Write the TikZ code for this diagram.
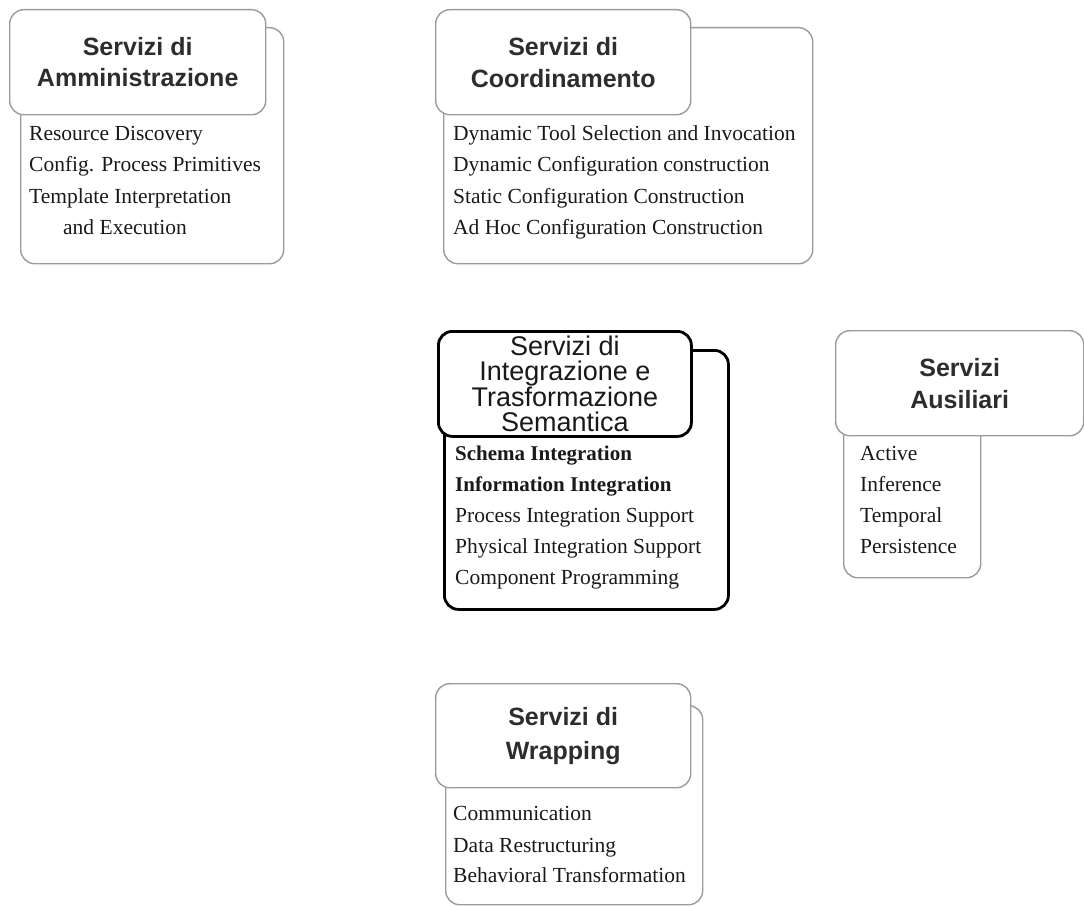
\documentclass[tikz,border=0pt]{standalone}
\usepackage{fontspec}
\setmainfont{Liberation Serif}
\newfontfamily\hdrfamily{Liberation Sans}

\definecolor{boxgray}{RGB}{155,155,155}
\definecolor{hdrtext}{RGB}{45,45,45}
\definecolor{itemtext}{RGB}{25,25,25}

\tikzset{
  backbox/.style={draw=boxgray, line width=1.4pt, rounded corners=14pt,
    anchor=north west, inner sep=0pt},
  hdrbox/.style={draw=boxgray, line width=1.4pt, rounded corners=14pt,
    fill=white, anchor=north west, inner sep=0pt, align=center, text=hdrtext,
    font=\hdrfamily\bfseries\fontsize{25}{31}\selectfont},
  heavy/.style={draw=black, line width=2.8pt},
  item/.style={anchor=base west, inner sep=0pt, text=itemtext,
    font=\fontsize{21.5}{26}\selectfont},
}

\begin{document}
\begin{tikzpicture}[x=1pt,y=-1pt]
\useasboundingbox (0,0) rectangle (1084,907);

% Servizi di Amministrazione
\node[backbox, minimum width=263pt, minimum height=236pt] (admB) at (20,27) {};
\node[hdrbox, minimum width=256pt, minimum height=105pt] (admH) at (9,9)
  {Servizi di\\Amministrazione};
\node[item] (adm1) at (29,140.5) {Resource Discovery};
\node[item] (adm2) at (29,171.5) {Config. Process Primitives};
\node[item] (adm3) at (29,203) {Template Interpretation};
\node[item] (adm4) at (63,234) {and Execution};

% Servizi di Coordinamento
\node[backbox, minimum width=369pt, minimum height=236pt] (cooB) at (443,27) {};
\node[hdrbox, minimum width=255pt, minimum height=105pt,
  font=\hdrfamily\bfseries\fontsize{25}{32}\selectfont] (cooH) at (435,9)
  {Servizi di\\Coordinamento};
\node[item] (coo1) at (453,140.5) {Dynamic Tool Selection and Invocation};
\node[item] (coo2) at (453,171.5) {Dynamic Configuration construction};
\node[item] (coo3) at (453,203) {Static Configuration Construction};
\node[item] (coo4) at (453,234) {Ad Hoc Configuration Construction};

% Servizi di Integrazione e Trasformazione Semantica
\node[backbox, heavy, minimum width=284pt, minimum height=259pt] (intB) at (443,349) {};
\node[hdrbox, heavy, minimum width=253pt, minimum height=105pt, text=black!90,
  font=\hdrfamily\fontsize{27}{24.5}\selectfont] (intH) at (437,330)
  {Servizi di\\Integrazione e\\Trasformazione\\Semantica};
\node[item, font=\bfseries\fontsize{21}{26}\selectfont] (int1) at (455,460) {Schema Integration};
\node[item, font=\bfseries\fontsize{21}{26}\selectfont] (int2) at (455,491) {Information Integration};
\node[item] (int3) at (455,522) {Process Integration Support};
\node[item] (int4) at (455,553) {Physical Integration Support};
\node[item] (int5) at (455,584) {Component Programming};

% Servizi Ausiliari
\node[backbox, minimum width=137pt, minimum height=217pt] (ausB) at (843,360) {};
\node[hdrbox, minimum width=248pt, minimum height=105pt,
  font=\hdrfamily\bfseries\fontsize{25}{32}\selectfont] (ausH) at (835,330)
  {Servizi\\Ausiliari};
\node[item] (aus1) at (860,460) {Active};
\node[item] (aus2) at (860,491) {Inference};
\node[item] (aus3) at (860,522) {Temporal};
\node[item] (aus4) at (860,553) {Persistence};

% Servizi di Wrapping
\node[backbox, minimum width=257pt, minimum height=199pt] (wrpB) at (445,705) {};
\node[hdrbox, minimum width=255pt, minimum height=104pt,
  font=\hdrfamily\bfseries\fontsize{25}{34}\selectfont] (wrpH) at (435,683)
  {Servizi di\\Wrapping};
\node[item] (wrp1) at (453,820) {Communication};
\node[item] (wrp2) at (453,852) {Data Restructuring};
\node[item] (wrp3) at (453,882) {Behavioral Transformation};

\end{tikzpicture}
\end{document}
